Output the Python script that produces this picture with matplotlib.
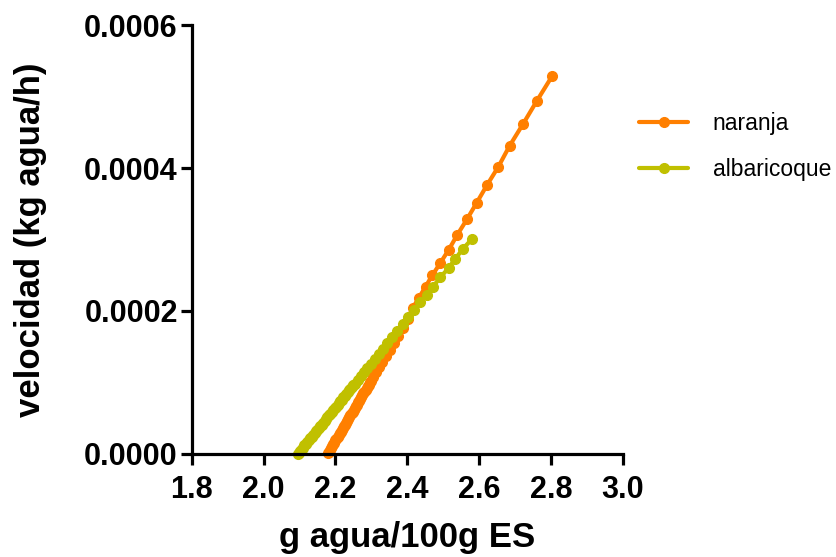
import matplotlib.pyplot as plt
from matplotlib.ticker import FormatStrFormatter

plt.rcParams['font.family'] = ['Liberation Sans', 'DejaVu Sans']

# humedad (g agua/100g ES) y velocidad de secado (kg agua/h)
x_naranja = [2.804, 2.761, 2.723, 2.685, 2.654, 2.622, 2.593, 2.566, 2.540, 2.516,
             2.492, 2.470, 2.451, 2.432, 2.415, 2.401, 2.387, 2.374, 2.362, 2.351,
             2.341, 2.331, 2.322, 2.314, 2.306, 2.299, 2.296, 2.293, 2.290, 2.287,
             2.284, 2.281, 2.278, 2.275, 2.272, 2.269, 2.266, 2.263, 2.260, 2.257,
             2.254, 2.251, 2.248, 2.245, 2.242, 2.239, 2.236, 2.233, 2.230, 2.227,
             2.224, 2.221, 2.218, 2.215, 2.212, 2.209, 2.206, 2.203, 2.200, 2.197,
             2.194, 2.191, 2.188, 2.185, 2.182, 2.179]
v_naranja = [0.000529, 0.000494, 0.000462, 0.000431, 0.000402, 0.000376, 0.000351,
             0.000328, 0.000307, 0.000286, 0.000267, 0.000250, 0.000234, 0.000218,
             0.000204, 0.000189, 0.000176, 0.000165, 0.000155, 0.000146, 0.000137,
             0.000129, 0.000122, 0.000115, 0.000108, 0.000102, 0.000100, 0.000097,
             0.000095, 0.000092, 0.000090, 0.000087, 0.000085, 0.000082, 0.000079,
             0.000077, 0.000074, 0.000072, 0.000069, 0.000067, 0.000064, 0.000062,
             0.000059, 0.000057, 0.000054, 0.000052, 0.000049, 0.000046, 0.000044,
             0.000041, 0.000039, 0.000036, 0.000034, 0.000031, 0.000029, 0.000026,
             0.000024, 0.000021, 0.000019, 0.000016, 0.000014, 0.000011, 0.000008,
             0.000006, 0.000003, 0.000001]

x_albaricoque = [2.581, 2.555, 2.534, 2.515, 2.492, 2.472, 2.454, 2.437, 2.420, 2.403,
                 2.387, 2.372, 2.358, 2.345, 2.333, 2.321, 2.310, 2.299, 2.289, 2.280,
                 2.271, 2.262, 2.254, 2.250, 2.246, 2.242, 2.238, 2.234, 2.230, 2.226,
                 2.222, 2.218, 2.214, 2.210, 2.206, 2.202, 2.198, 2.194, 2.190, 2.186,
                 2.182, 2.178, 2.174, 2.170, 2.166, 2.162, 2.158, 2.154, 2.150, 2.146,
                 2.142, 2.138, 2.134, 2.130, 2.126, 2.122, 2.118, 2.114, 2.110, 2.106,
                 2.102, 2.098, 2.095]
v_albaricoque = [0.000301, 0.000287, 0.000273, 0.000260, 0.000247, 0.000234, 0.000222,
                 0.000212, 0.000201, 0.000191, 0.000182, 0.000172, 0.000163, 0.000155,
                 0.000147, 0.000140, 0.000133, 0.000126, 0.000120, 0.000114, 0.000109,
                 0.000103, 0.000098, 0.000096, 0.000093, 0.000091, 0.000089, 0.000086,
                 0.000084, 0.000081, 0.000079, 0.000076, 0.000074, 0.000071, 0.000069,
                 0.000066, 0.000064, 0.000061, 0.000059, 0.000056, 0.000054, 0.000051,
                 0.000049, 0.000046, 0.000044, 0.000041, 0.000039, 0.000037, 0.000034,
                 0.000032, 0.000029, 0.000027, 0.000024, 0.000022, 0.000019, 0.000017,
                 0.000014, 0.000012, 0.000009, 0.000007, 0.000004, 0.000002, 0.000000]

x_ticks = [1.8, 2.0, 2.2, 2.4, 2.6, 2.8, 3.0]
y_ticks = [0.0, 0.0002, 0.0004, 0.0006]

fig = plt.figure(figsize=(8.37, 5.57), dpi=100)
ax = fig.add_axes([0.229, 0.185, 0.515, 0.770])

ax.plot(x_naranja, v_naranja, color='#FF7F00', lw=3, marker='o', ms=7,
        solid_capstyle='round', label='naranja', clip_on=False)
ax.plot(x_albaricoque, v_albaricoque, color='#C0C000', lw=3, marker='o', ms=7,
        solid_capstyle='round', label='albaricoque', clip_on=False)

ax.set_xlim(1.8, 3.0)
ax.set_ylim(0, 0.0006)
ax.set_xticks(x_ticks)
ax.set_yticks(y_ticks)
ax.xaxis.set_major_formatter(FormatStrFormatter('%.1f'))
ax.yaxis.set_major_formatter(FormatStrFormatter('%.4f'))

for s in ['top', 'right']:
    ax.spines[s].set_visible(False)
for s in ['left', 'bottom']:
    ax.spines[s].set_linewidth(2.3)
ax.tick_params(width=2.3, length=8, labelsize=22, direction='out')
ax.tick_params(axis='x', pad=7)
ax.tick_params(axis='y', pad=2)
for lab in ax.get_xticklabels() + ax.get_yticklabels():
    lab.set_fontweight('bold')

ax.set_xlabel('g agua/100g ES', fontsize=25, fontweight='bold', labelpad=12)
ax.set_ylabel('velocidad (kg agua/h)', fontsize=25, fontweight='bold', labelpad=27)

ax.legend(loc='upper left', bbox_to_anchor=(0.764, 0.799), bbox_transform=fig.transFigure,
          frameon=False, fontsize=16.5, handlelength=2.1, handletextpad=1.1,
          labelspacing=1.0, borderpad=0, borderaxespad=0)

fig.savefig('out.png', dpi=100)
